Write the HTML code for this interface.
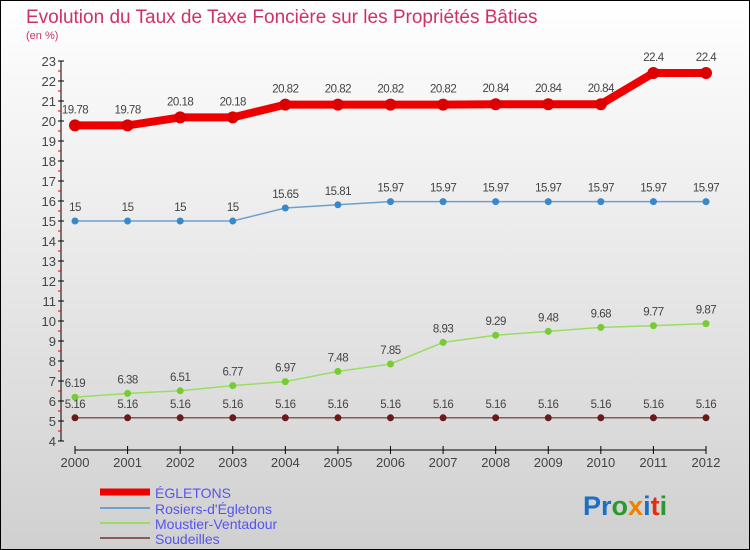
<!DOCTYPE html>
<html><head><meta charset="utf-8"><style>
body{margin:0;padding:0;}
#wrap{width:750px;height:550px;position:relative;overflow:hidden;}
svg text{font-family:"Liberation Sans",sans-serif;}
</style></head><body>
<div id="wrap">
<svg id="chart" width="750" height="550" xmlns="http://www.w3.org/2000/svg">
<defs><linearGradient id="bg" x1="0" y1="0" x2="0" y2="1"><stop offset="0" stop-color="#ffffff"/><stop offset="1" stop-color="#d0d0d0"/></linearGradient></defs>
<rect x="0.5" y="0.5" width="749" height="549" fill="url(#bg)" stroke="#000"/>
<text x="26" y="23" font-size="19" fill="#d0306a">Evolution du Taux de Taxe Foncière sur les Propriétés Bâties</text>
<text x="26" y="39" font-size="11" fill="#d0306a">(en %)</text>
<g id="axes"></g>
<g id="series"></g>
<g id="legend"></g>
<text x="583" y="515" font-size="27" font-weight="bold"><tspan fill="#1a70c8">Pr</tspan><tspan fill="#2a9a30">o</tspan><tspan fill="#f08000">x</tspan><tspan fill="#1a70c8">i</tspan><tspan fill="#e03010">t</tspan><tspan fill="#2a9a30">i</tspan></text>
</svg>
</div>
<script>
const years=[2000,2001,2002,2003,2004,2005,2006,2007,2008,2009,2010,2011,2012];
const egletons=[19.78,19.78,20.18,20.18,20.82,20.82,20.82,20.82,20.84,20.84,20.84,22.4,22.4];
const rosiers=[15,15,15,15,15.65,15.81,15.97,15.97,15.97,15.97,15.97,15.97,15.97];
const moustier=[6.19,6.38,6.51,6.77,6.97,7.48,7.85,8.93,9.29,9.48,9.68,9.77,9.87];
const soudeilles=[5.16,5.16,5.16,5.16,5.16,5.16,5.16,5.16,5.16,5.16,5.16,5.16,5.16];
const yTicks=[4,5,6,7,8,9,10,11,12,13,14,15,16,17,18,19,20,21,22,23];
const NS="http://www.w3.org/2000/svg";
const x=i=>75+i*(706-75)/(years.length-1);
const y=v=>441-(v-4)*20;
function mk(tag,attrs,parent){const e=document.createElementNS(NS,tag);for(const k in attrs)e.setAttribute(k,attrs[k]);parent.appendChild(e);return e;}
const axes=document.getElementById('axes');
const ya=mk('line',{x1:61,y1:y(23),x2:61,y2:y(4),stroke:'#000','stroke-width':1},axes);


yTicks.forEach(t=>{
 mk('line',{x1:58,y1:y(t),x2:64,y2:y(t),stroke:'#000'},axes);
 if(t<23) mk('line',{x1:58,y1:y(t+0.5),x2:61,y2:y(t+0.5),stroke:'#e00'},axes);
 const tx=mk('text',{x:56,y:y(t)+5,'text-anchor':'end','font-size':13,fill:'#444'},axes);
 tx.textContent=t;
 
 
});
const xa=mk('line',{x1:x(0),y1:450,x2:x(12),y2:450,stroke:'#000'},axes);


years.forEach((yr,i)=>{
 mk('line',{x1:x(i),y1:446,x2:x(i),y2:454,stroke:'#000'},axes);
 const tx=mk('text',{x:x(i),y:467,'text-anchor':'middle','font-size':13,fill:'#444'},axes);
 tx.textContent=yr;
 
 
});
const series=[
 {name:'egletons',label:'ÉGLETONS',data:egletons,color:'#ee0000',w:8,r:6,dot:'#dd0000'},
 {name:'rosiers',label:"Rosiers-d'Égletons",data:rosiers,color:'#6fa0cc',w:1.5,r:3.5,dot:'#3a88cc'},
 {name:'moustier',label:'Moustier-Ventadour',data:moustier,color:'#99dd66',w:1.5,r:3.5,dot:'#77cc33'},
 {name:'soudeilles',label:'Soudeilles',data:soudeilles,color:'#8a5a5a',w:1.5,r:3.5,dot:'#6a1a1a'}
];
const sg=document.getElementById('series');
series.forEach(s=>{
 const pts=s.data.map((v,i)=>x(i)+','+y(v)).join(' ');
 const pl=mk('polyline',{points:pts,fill:'none',stroke:s.color,'stroke-width':s.w,'stroke-linejoin':'round'},sg);
 
 
 s.data.forEach((v,i)=>{
  const c=mk('circle',{cx:x(i),cy:y(v),r:s.r,fill:s.dot},sg);
  
  
  const t=mk('text',{x:x(i),y:y(v)-(s.w>4?12:10),'text-anchor':'middle','font-size':11.5,fill:'#444','letter-spacing':'-0.5'},sg);
  t.textContent=String(v).replace('.','').length&&String(v);
  
  
 });
});
const lg=document.getElementById('legend');
const lys=[492,508,523,538];
series.forEach((s,i)=>{
 const l=mk('line',{x1:100,y1:lys[i],x2:150,y2:lys[i],stroke:s.color,'stroke-width':s.w>4?7:2},lg);
 
 
 const t=mk('text',{x:155,y:lys[i]+6,'font-size':14,fill:'#5555ee'},lg);
 t.textContent=s.label;
 
 
});
</script>
</body></html>
